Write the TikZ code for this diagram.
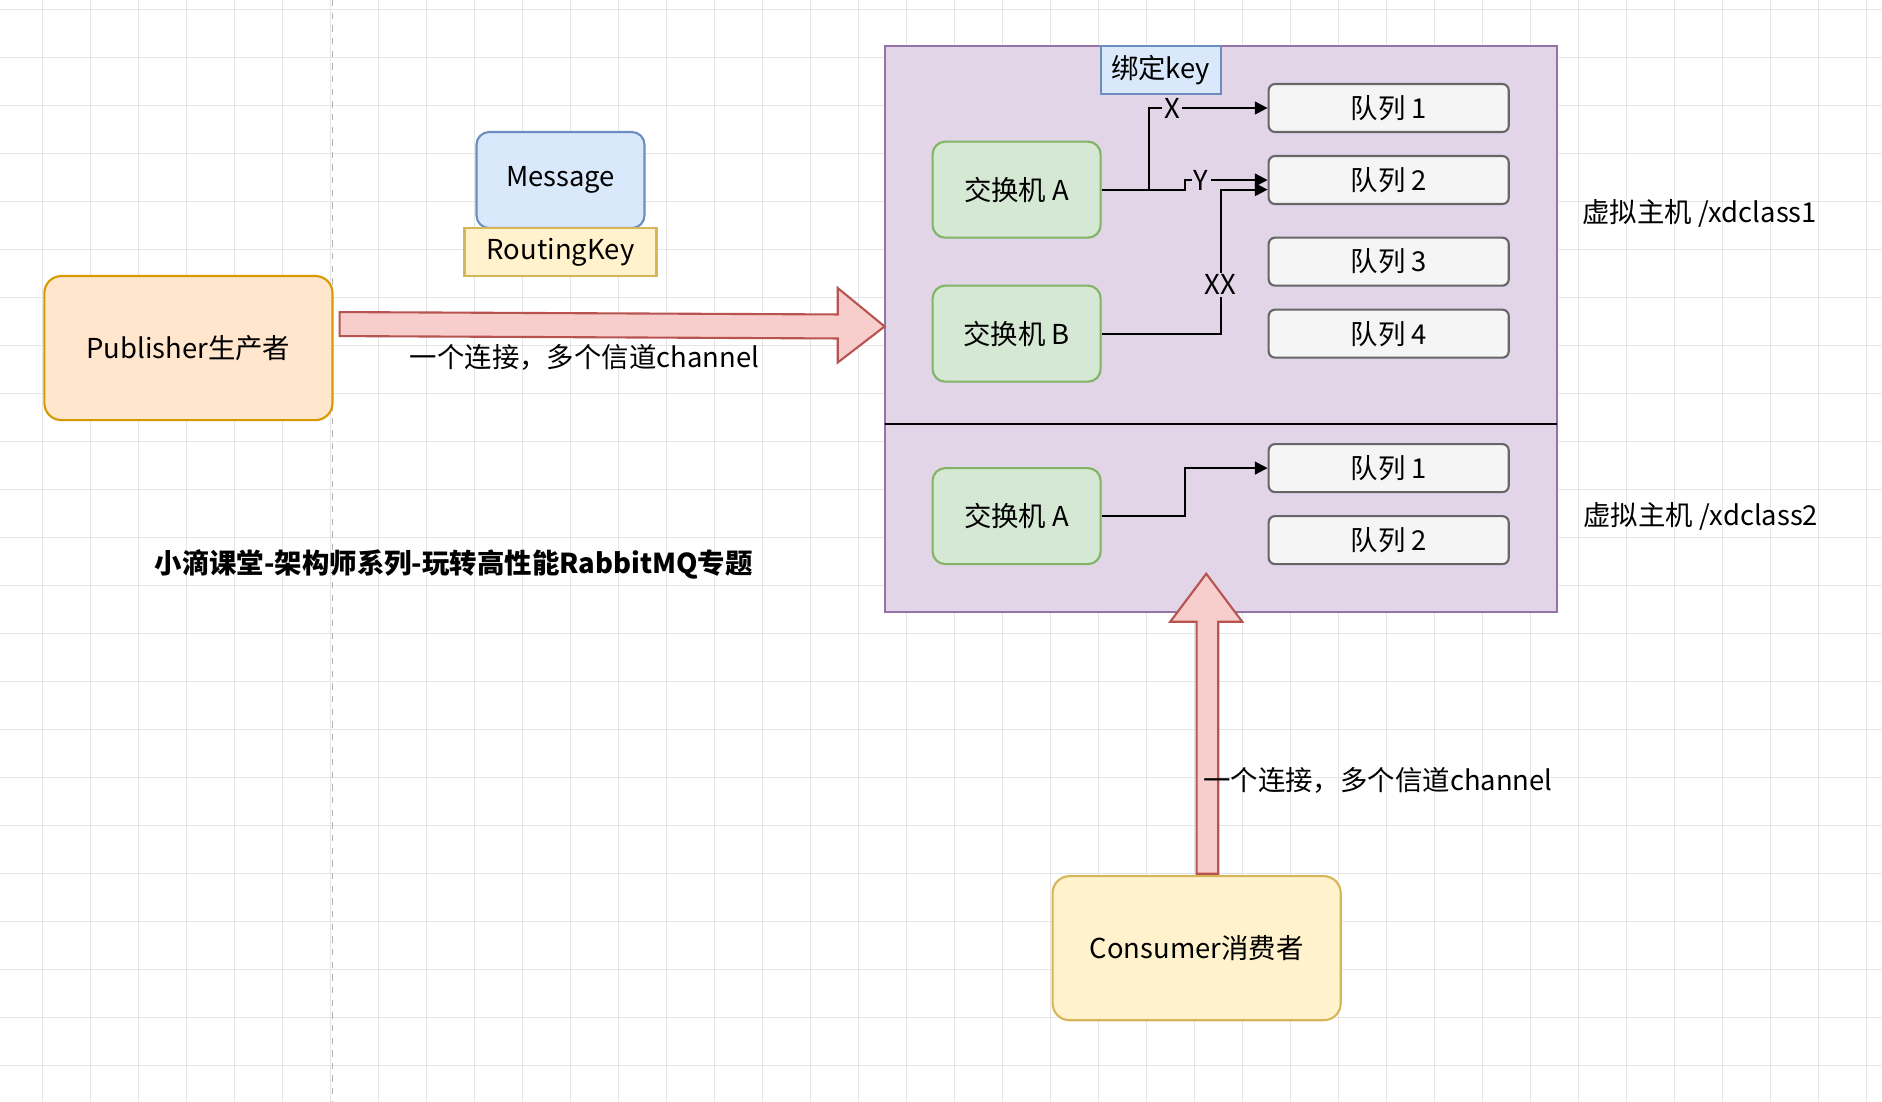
\documentclass[tikz,border=0pt]{standalone}
\usepackage{fontspec}
\setmainfont{Noto Sans CJK SC}
\usetikzlibrary{arrows.meta,shapes.arrows}
\definecolor{pubfill}{HTML}{FFE6CC}\definecolor{publine}{HTML}{D79B00}
\definecolor{bluefill}{HTML}{DAE8FC}\definecolor{blueline}{HTML}{6C8EBF}
\definecolor{yelfill}{HTML}{FFF2CC}\definecolor{yelline}{HTML}{D6B656}
\definecolor{redfill}{HTML}{F8CECC}\definecolor{redline}{HTML}{B85450}
\definecolor{purfill}{HTML}{E1D5E7}\definecolor{purline}{HTML}{9673A6}
\definecolor{grnfill}{HTML}{D5E8D4}\definecolor{grnline}{HTML}{82B366}
\definecolor{qfill}{HTML}{F5F5F5}\definecolor{qline}{HTML}{666666}
\tikzset{
  base/.style={draw, line width=1pt, font=\fontsize{13}{15}\selectfont, inner sep=0pt},
  pub/.style={base, rounded corners=8pt, fill=pubfill, draw=publine, minimum width=240\u, minimum height=120\u},
  cons/.style={base, rounded corners=8pt, fill=yelfill, draw=yelline, minimum width=240\u, minimum height=120\u},
  msg/.style={base, rounded corners=6pt, fill=bluefill, draw=blueline, minimum width=140\u, minimum height=80\u},
  tag/.style={base, minimum height=40\u},
  exch/.style={base, rounded corners=6pt, fill=grnfill, draw=grnline, minimum width=140\u, minimum height=80\u},
  queue/.style={base, rounded corners=3pt, fill=qfill, draw=qline, minimum width=200\u, minimum height=40\u},
  txt/.style={font=\fontsize{13}{15}\selectfont, inner sep=1pt},
  link/.style={-{Triangle[length=6pt,width=6pt]}, line width=1pt},
  lbl/.style={txt, fill=purfill},
}
\def\u{*0.02cm}
\begin{document}
\begin{tikzpicture}[x=0.02cm,y=-0.02cm]
  \useasboundingbox (0,0) rectangle (1568,918);
  % grid
  \fill[white] (0,0) rectangle (1568,918);
  \foreach \x in {35,75,...,1568}
    \draw[black!10, line width=0.4pt] (\x,0) -- (\x,918);
  \foreach \y in {8,48,...,918}
    \draw[black!10, line width=0.4pt] (0,\y) -- (1568,\y);
  \draw[black!30, dashed, line width=0.6pt] (277,0) -- (277,918);

  % virtual hosts
  \draw[fill=purfill, draw=purline, line width=1pt] (737,38) rectangle (1297,510);
  \draw[line width=1pt] (737,353) -- (1297,353);
  \node[tag, fill=bluefill, draw=blueline, minimum width=100\u] (bind) at (967,58) {绑定key};

  % nodes
  \node[pub] (pub) at (157,290) {Publisher生产者};
  \node[msg] (msg) at (467,150) {Message};
  \node[tag, fill=yelfill, draw=yelline, minimum width=160\u] (rk) at (467,210) {RoutingKey};
  \node[exch] (exA) at (847,158) {交换机 A};
  \node[exch] (exB) at (847,278) {交换机 B};
  \node[exch] (exC) at (847,430) {交换机 A};
  \node[queue] (q1) at (1157,90) {队列 1};
  \node[queue] (q2) at (1157,150) {队列 2};
  \node[queue] (q3) at (1157,218) {队列 3};
  \node[queue] (q4) at (1157,278) {队列 4};
  \node[queue] (q5) at (1157,390) {队列 1};
  \node[queue] (q6) at (1157,450) {队列 2};
  \node[cons] (cons) at (997,790) {Consumer消费者};

  % host labels and title
  \node[txt] (h1) at (1416,178) {虚拟主机 /xdclass1};
  \node[txt] (h2) at (1417,430) {虚拟主机 /xdclass2};
  \node[txt, font=\fontsize{13}{15}\selectfont\bfseries] (title) at (378,470) {小滴课堂-架构师系列-玩转高性能RabbitMQ专题};

  % big arrows
  \draw[fill=redfill, draw=redline, line width=1pt]
    (283,260) -- (698,262) -- (698,240) -- (737,272) -- (698,302) -- (698,282) -- (283,280) -- cycle;
  \node[txt] (c1) at (487,298) {一个连接，多个信道channel};
  \draw[fill=redfill, draw=redline, line width=1pt]
    (997,728) -- (997,518) -- (975,518) -- (1005,478) -- (1035,518) -- (1015,518) -- (1015,728) -- cycle;
  \node[txt] (c2) at (1148,650) {一个连接，多个信道channel};

  % bindings
  \draw[link] (exA.east) -- (957,158) |- (q1.west) node[lbl, pos=0.6] {X};
  \draw[link] (exA.east) -- (987,158) |- (q2.west) node[lbl, pos=0.6] {Y};
  \draw[link] (exB.east) -- (1017,278) |- ([yshift=-8\u]q2.west) node[lbl, pos=0.17] {XX};
  \draw[link] (exC.east) -- (987,430) |- (q5.west);
\end{tikzpicture}
\end{document}
